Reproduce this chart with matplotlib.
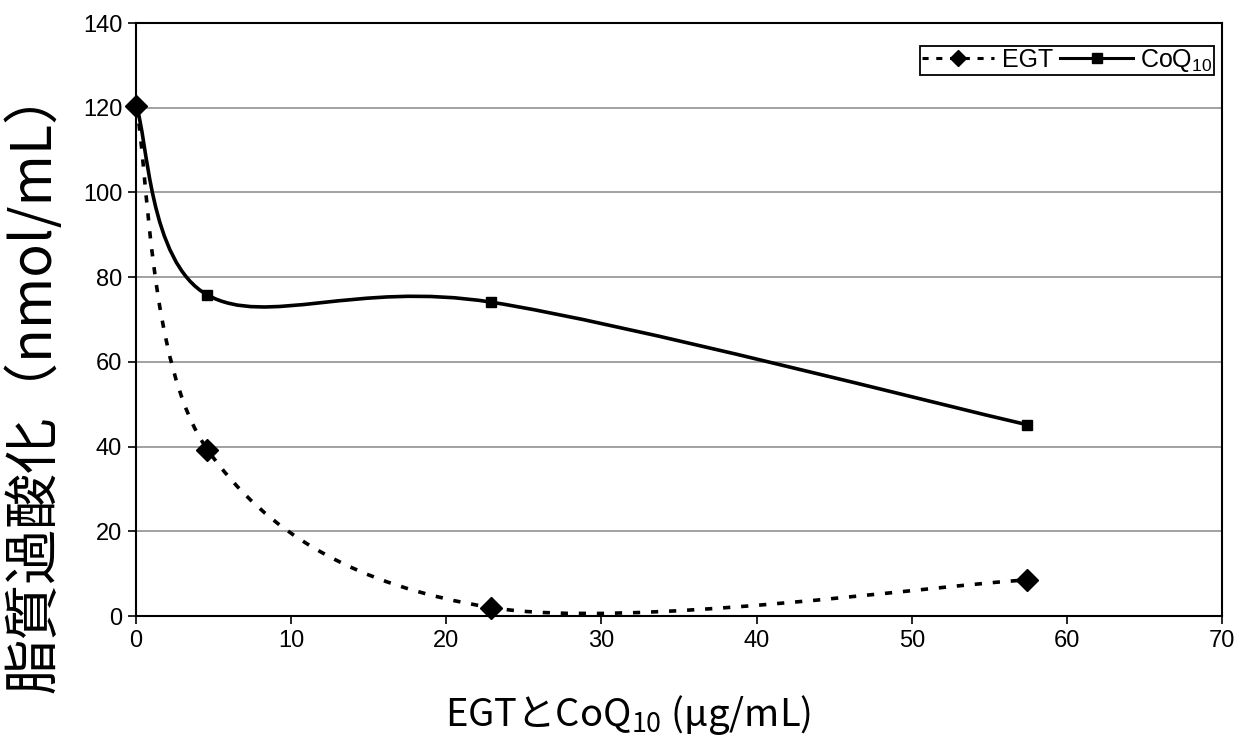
import numpy as np
import matplotlib
matplotlib.use("Agg")
import matplotlib.pyplot as plt
from matplotlib.path import Path
from matplotlib.patches import PathPatch
from matplotlib.lines import Line2D

# ---- data ----
egt_x = [0, 4.6, 22.9, 57.4]
egt_y = [120.5, 39.3, 2.0, 8.5]
coq_x = [0, 4.6, 22.9, 57.4]
coq_y = [120.5, 75.8, 74.1, 45.2]
series_labels = ["EGT", r"CoQ$_\mathregular{10}$"]
x_ticks = [0, 10, 20, 30, 40, 50, 60, 70]
y_ticks = [0, 20, 40, 60, 80, 100, 120, 140]
xlabel = r"EGTとCoQ$_\mathregular{10}$ (μg/mL)"
ylabel = "脂質過酸化（nmol/mL）"

plt.rcParams['font.family'] = ['Liberation Sans', 'DejaVu Sans']


def smooth_path(xs, ys):
    pts = np.column_stack([xs, ys]).astype(float)
    n = len(pts)
    verts = [pts[0]]
    codes = [Path.MOVETO]
    for i in range(n - 1):
        p0 = pts[i - 1] if i > 0 else pts[i]
        p1 = pts[i]
        p2 = pts[i + 1]
        p3 = pts[i + 2] if i + 2 < n else pts[i + 1]
        c1 = p1 + (p2 - p0) / 6.0
        c2 = p2 - (p3 - p1) / 6.0
        verts += [c1, c2, p2]
        codes += [Path.CURVE4] * 3
    return Path(verts, codes)


fig = plt.figure(figsize=(12.38, 7.44), dpi=100)
ax = fig.add_axes([0.1099, 0.172, 0.8772, 0.797])

ax.set_xlim(0, 70)
ax.set_ylim(0, 140)
ax.set_xticks(x_ticks)
ax.set_yticks(y_ticks)
ax.tick_params(axis='both', direction='out', length=6, width=1.2,
               labelsize=17, colors='black', pad=4)

for yv in y_ticks[1:-1]:
    ax.axhline(yv, color='#888888', lw=1.1, zorder=0)

for sp in ax.spines.values():
    sp.set_linewidth(1.5)
    sp.set_color('black')

egt_style = dict(color='black', lw=2.6, ls=(0, (2, 3)))
coq_style = dict(color='black', lw=2.6, ls='-')

ax.add_patch(PathPatch(smooth_path(egt_x, egt_y), fill=False, zorder=3,
                       capstyle='butt', **egt_style))
ax.add_patch(PathPatch(smooth_path(coq_x, coq_y), fill=False, zorder=3,
                       **coq_style))

ax.plot(egt_x, egt_y, ls='none', marker='D', ms=11, color='black', zorder=4,
        clip_on=False)
ax.plot(coq_x, coq_y, ls='none', marker='s', ms=7.5, color='black', zorder=4,
        clip_on=False)

handles = [
    Line2D([], [], marker='D', ms=8, color='black', lw=2.2, ls=(0, (2, 2.5))),
    Line2D([], [], marker='s', ms=7, color='black', lw=2.2, ls='-'),
]
leg = ax.legend(handles, series_labels, loc='upper right',
                bbox_to_anchor=(0.9925, 0.962), borderaxespad=0, ncol=2,
                fontsize=18, handlelength=2.9, handletextpad=0.3,
                columnspacing=0.3, borderpad=0.05, fancybox=False,
                framealpha=1, edgecolor='black')
leg.get_frame().set_linewidth(1.3)

fig.text(0.507, 0.039, xlabel, ha='center', va='center', fontsize=27.5,
         family='Noto Sans CJK JP')
fig.text(0.028, 0.49, ylabel, ha='center', va='center', fontsize=40,
         rotation=90, family=['Noto Sans CJK JP', 'DejaVu Sans'])

fig.savefig('out.png', dpi=100)
